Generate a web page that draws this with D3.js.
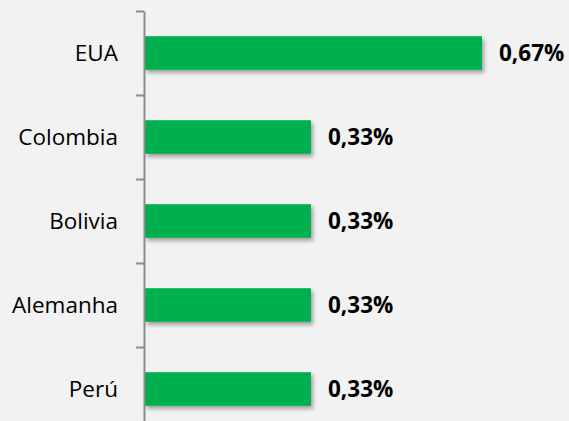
<!DOCTYPE html>
<html>
<head>
<meta charset="utf-8">
<script src="https://cdn.jsdelivr.net/npm/d3@7"></script>
<style>
  body { margin: 0; background: #f2f2f2; }
  svg { display: block; }
</style>
</head>
<body>
<div id="chart"></div>
<script>
// data (percent)
const paises = ["EUA", "Colombia", "Bolivia", "Alemanha", "Perú"];
const valores = [0.67, 0.33, 0.33, 0.33, 0.33];
const rotulos = ["0,67%", "0,33%", "0,33%", "0,33%", "0,33%"];

const data = paises.map((p, i) => ({ pais: p, valor: valores[i], rotulo: rotulos[i] }));

const svg = d3.select("#chart")
    .append("svg")
    .attr("width", 569)
    .attr("height", 421)

svg.append("rect")
    .attr("width", 569)
    .attr("height", 421)
    .attr("fill", "#f2f2f2")

// bar shadow
const f = svg.append("defs").append("filter")
    .attr("id", "sombra")
    .attr("x", "-10%").attr("y", "-30%")
    .attr("width", "130%").attr("height", "190%")
f.append("feDropShadow")
    .attr("dx", 2).attr("dy", 3)
    .attr("stdDeviation", 2)
    .attr("flood-color", "#000")
    .attr("flood-opacity", 0.35)

const x0 = 145

const y = d3.scaleBand()
    .domain(paises)
    .range([11, 431])
    .paddingInner(0.6)
    .paddingOuter(0.3)

const x = d3.scaleLinear()
    .domain([0, 0.67])
    .range([x0, x0 + 337])

// bars
svg.selectAll("rect.bar")
    .data(data)
    .enter().append("rect")
    .attr("class", "bar")
    .attr("x", x(0))
    .attr("y", d => y(d.pais))
    .attr("width", d => x(d.valor) - x(0))
    .attr("height", y.bandwidth())
    .attr("fill", "#00b050")
    .attr("filter", "url(#sombra)")

// axis: line + ticks between categories
const gap = (y.step() - y.bandwidth()) / 2
const limites = paises.map(p => y(p) - gap).concat([y(paises[paises.length - 1]) + y.bandwidth() + gap])

const yAxisCall = d3.axisLeft(d3.scaleIdentity().domain([11, 431]))
    .tickValues(limites)
    .tickSize(8)
    .tickSizeOuter(0)
    .tickFormat("")

svg.append("g")
    .attr("class", "y axis")
    .attr("transform", `translate(${x0 - 1}, 0)`)
    .call(yAxisCall)
    .call(g => g.selectAll("path, line").attr("stroke", "#8c8c8c").attr("stroke-width", 2))

// category labels
svg.selectAll("text.cat")
    .data(data)
    .enter().append("text")
    .attr("class", "cat")
    .attr("x", 118)
    .attr("y", d => y(d.pais) + y.bandwidth() / 2)
    .attr("dy", "0.35em")
    .attr("text-anchor", "end")
    .attr("font-family", "'Open Sans', sans-serif")
    .attr("font-size", 22.5)
    .attr("fill", "#000")
    .text(d => d.pais)

// value labels
svg.selectAll("text.val")
    .data(data)
    .enter().append("text")
    .attr("class", "val")
    .attr("x", d => x(d.valor) + 17)
    .attr("y", d => y(d.pais) + y.bandwidth() / 2)
    .attr("dy", "0.35em")
    .attr("font-family", "'Open Sans', sans-serif")
    .attr("font-weight", "bold")
    .attr("font-size", 22.5)
    .attr("fill", "#000")
    .text(d => d.rotulo)
</script>
</body>
</html>
